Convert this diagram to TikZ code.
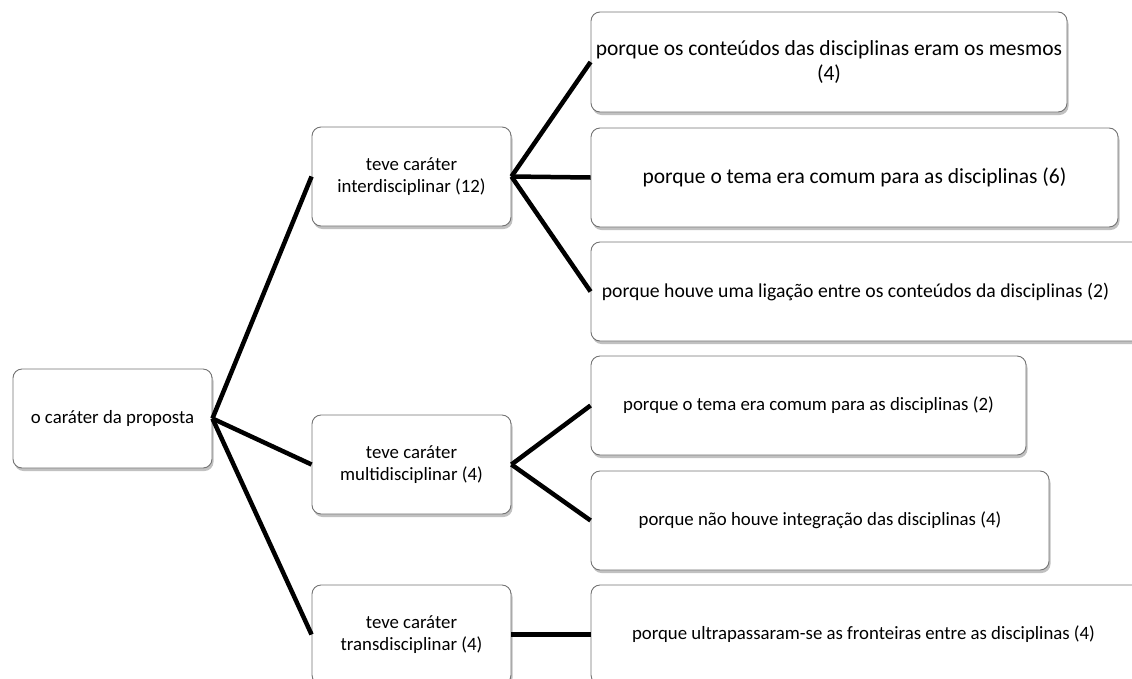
\documentclass[tikz,border=0pt]{standalone}
\usepackage{fontspec}
\setmainfont{Carlito}
\usetikzlibrary{shadows}
\tikzset{
  box/.style={draw=black!55, line width=0.9pt, rounded corners=9pt, fill=white,
    drop shadow={shadow xshift=1.5pt, shadow yshift=-3pt, opacity=0.35, fill=black!70},
    align=center, inner sep=2pt, font=\fontsize{18.8}{22.5}\selectfont},
  big/.style={font=\fontsize{21.5}{25}\selectfont},
  mid/.style={font=\fontsize{19.7}{23.5}\selectfont},
  link/.style={line width=4.5pt, black}
}
\begin{document}
\begin{tikzpicture}[x=1pt,y=-1pt]
\useasboundingbox (0,0) rectangle (1132,678);
\clip (0,0) rectangle (1132,678);
\node[box, minimum width=199pt, minimum height=99pt] (root) at (112.5,418.5) {o caráter da proposta};
\node[box, minimum width=199pt, minimum height=99pt] (inter) at (411.5,176.5) {teve caráter\\interdisciplinar (12)};
\node[box, minimum width=199pt, minimum height=99pt] (multi) at (411.5,464.5) {teve caráter\\multidisciplinar (4)};
\node[box, minimum width=199pt, minimum height=99pt] (trans) at (411.5,634.5) {teve caráter\\transdisciplinar (4)};
\node[box, big, minimum width=476pt, minimum height=100pt] (b1) at (829,62) {porque os conteúdos das disciplinas eram os mesmos\\(4)};
\node[box, big, minimum width=527pt, minimum height=99pt] (b2) at (854.5,177.5) {porque o tema era comum para as disciplinas (6)};
\node[box, mid, minimum width=560pt, minimum height=99pt] (b3) at (871,291.5) {\hspace*{-31pt}porque houve uma ligação entre os conteúdos da disciplinas (2)};
\node[box, minimum width=435pt, minimum height=99pt] (b4) at (808.5,405.5) {porque o tema era comum para as disciplinas (2)};
\node[box, minimum width=458pt, minimum height=99pt] (b5) at (820,520.5) {porque não houve integração das disciplinas (4)};
\node[box, minimum width=560pt, minimum height=99pt] (b6) at (871,634.5) {\hspace*{-15pt}porque ultrapassaram-se as fronteiras entre as disciplinas (4)};
\draw[link] (root.east) -- (inter.west);
\draw[link] (root.east) -- (multi.west);
\draw[link] (root.east) -- (trans.west);
\draw[link] (inter.east) -- (b1.west);
\draw[link] (inter.east) -- (b2.west);
\draw[link] (inter.east) -- (b3.west);
\draw[link] (multi.east) -- (b4.west);
\draw[link] (multi.east) -- (b5.west);
\draw[link] (trans.east) -- (b6.west);
\end{tikzpicture}
\end{document}
